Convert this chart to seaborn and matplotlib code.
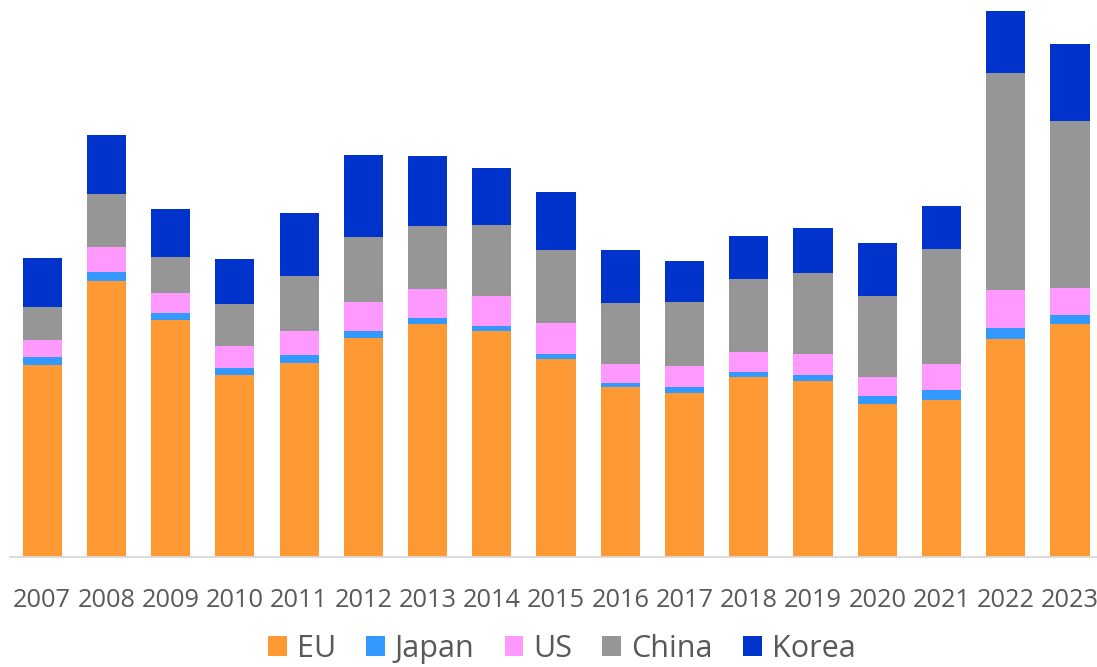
import numpy as np
import pandas as pd
import seaborn as sns
import matplotlib.pyplot as plt
from matplotlib.patches import Patch

# values (arbitrary units, no y axis in the original)
years = ["2007", "2008", "2009", "2010", "2011", "2012", "2013", "2014", "2015",
         "2016", "2017", "2018", "2019", "2020", "2021", "2022", "2023"]
eu = [192.3, 276.3, 237.0, 182.3, 193.7, 219.0, 233.0, 226.0, 198.3,
      170.0, 164.3, 179.7, 176.4, 153.5, 157.5, 218.2, 233.5]
japan = [7.7, 8.7, 6.7, 7.0, 8.0, 7.0, 5.7, 5.0, 5.0,
         4.0, 5.3, 5.4, 5.8, 7.6, 9.8, 10.9, 8.3]
us = [16.7, 24.7, 20.3, 21.7, 24.3, 29.0, 29.0, 30.3, 30.7,
      19.3, 21.3, 20.4, 20.7, 18.9, 25.8, 37.5, 27.3]
china = [33.3, 53.0, 36.0, 42.0, 54.7, 65.0, 63.7, 70.7, 72.7,
         60.7, 64.0, 72.3, 80.7, 80.7, 115.3, 217.0, 166.5]
korea = [49.3, 59.3, 47.7, 44.7, 63.0, 81.7, 69.7, 57.0, 58.3,
         53.0, 41.3, 42.9, 45.8, 53.1, 42.9, 62.1, 77.1]

series = ["EU", "Japan", "US", "China", "Korea"]
colors = ["#FF9933", "#3399FF", "#FF99FF", "#969696", "#0033CC"]

df = pd.DataFrame({"year": years, "EU": eu, "Japan": japan, "US": us,
                   "China": china, "Korea": korea})

sns.set_style("white")
plt.rcParams["font.family"] = ["Open Sans", "DejaVu Sans"]

fig = plt.figure(figsize=(10.97, 6.67), dpi=100)
ax = fig.add_axes([10 / 1097, 110 / 667, 1087 / 1097, 557 / 667])

# stacked bars, one seaborn call per layer
bottom = np.zeros(len(years))
for name, col in zip(series, colors):
    sns.barplot(data=df, x="year", y=name, color=col, bottom=bottom,
                width=0.61, saturation=1, ax=ax, edgecolor="none")
    bottom = bottom + df[name].values

ax.set_xlim(-0.5, 16.42)
ax.set_ylim(0, 557)
ax.set_xlabel("")
ax.set_ylabel("")
ax.set_yticks([])
for s in ["top", "right", "left"]:
    ax.spines[s].set_visible(False)
ax.spines["bottom"].set_color("#d9d9d9")
ax.spines["bottom"].set_linewidth(1.3)
ax.tick_params(axis="x", length=0, pad=22.5, labelsize=18.3, labelcolor="#595959")

handles = [Patch(facecolor=c, edgecolor="none") for c in colors]
fig.legend(handles, series, loc="center", bbox_to_anchor=(0.512, 1 - 649 / 667),
           ncol=5, frameon=False, fontsize=22, labelcolor="#595959",
           handlelength=0.62, handleheight=0.62, handletextpad=0.33,
           columnspacing=0.98)

fig.savefig("out.png", dpi=100)
